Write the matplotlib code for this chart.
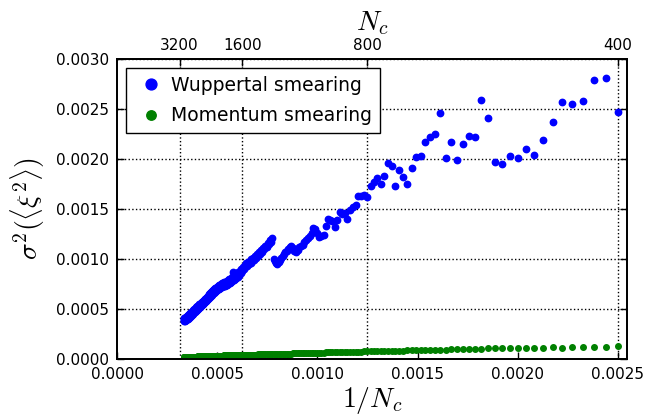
import numpy as np
import matplotlib
matplotlib.use('Agg')
import matplotlib.pyplot as plt

# Number of configurations used for each point (x axis shows 1/N_c)
N_values = list(range(400, 3010, 10))

# Wuppertal smearing variance, in units of 1e-5
wupp_e5 = [
    247, 281, 279, 258, 255, 257, 237, 219, 204, 210,
    201, 203, 195, 197, 241, 259, 222, 223, 215, 199,
    217, 201, 246, 225, 222, 217, 203, 202, 191, 175,
    182, 189, 173, 193, 196, 183, 175, 181, 177, 173,
    162, 164, 163, 163, 154, 152, 149, 140, 146, 145,
    147, 139, 132, 138, 139, 140, 133, 124, 123, 122,
    126, 130, 131, 126, 123, 121, 119, 117, 114,
    113, 112, 109, 107, 108, 111, 113, 112, 110, 108,
    107, 105, 103, 101, 99, 97, 95, 96, 98, 100,
    121, 117, 119, 115, 116, 112, 113, 110, 111, 107,
    109, 105, 107, 103, 105, 101, 103, 99, 101, 98,
    100, 96, 98, 95, 97, 93, 96, 92, 94, 90,
    92, 88, 90, 86, 88, 84, 87, 82, 85, 81,
    84, 80, 83, 79, 87, 78, 82, 77, 80, 76,
    80, 75, 79, 74, 78, 74, 77, 73, 77, 73,
    76, 72, 76, 72, 75, 71, 74, 70, 74, 70,
    73, 69, 72, 68, 71, 67, 71, 66, 70, 66,
    69, 65, 68, 64, 67, 63, 66, 62, 65, 61,
    64, 60, 63, 59, 62, 58, 61, 58, 60, 57,
    60, 56, 59, 55, 58, 55, 57, 54, 57, 53,
    56, 53, 55, 52, 55, 51, 54, 51, 53, 50,
    53, 50, 52, 49, 52, 48, 51, 48, 50, 47,
    50, 47, 49, 46, 49, 45, 48, 45, 47, 44,
    47, 44, 46, 43, 46, 43, 45, 42, 45, 42,
    44, 41, 44, 41, 43, 40, 43, 40, 42, 40,
    42, 39, 42, 39, 41, 39, 41, 38, 41, 38,
    40, 39,
]

# Momentum smearing variance, in units of 1e-6
mom_e6 = [
    130, 124, 123, 118, 117, 114, 116, 113, 114, 111,
    113, 110, 107, 106, 108, 104, 103, 100, 98, 99,
    96, 94, 92, 90, 89, 88, 90, 91, 88, 86,
    85, 84, 84, 83, 82, 81, 80, 79, 78, 77,
    76, 76, 75, 74, 74, 73, 72, 72, 71, 70,
    70, 69, 68, 68, 67, 66, 66, 65, 64, 63,
    63, 62, 62, 61, 61, 60, 60, 59, 59, 58,
    58, 57, 57, 56, 56, 55, 55, 54, 54, 53,
    53, 53, 52, 52, 51, 51, 51, 50, 50, 50,
    49, 49, 49, 48, 48, 48, 47, 47, 47, 46,
    46, 46, 46, 45, 45, 45, 45, 44, 44, 44,
    44, 43, 43, 43, 43, 42, 42, 42, 42, 42,
    41, 41, 41, 41, 40, 40, 40, 40, 40, 39,
    39, 39, 39, 39, 38, 38, 38, 38, 38, 37,
    37, 37, 37, 37, 36, 36, 36, 36, 36, 35,
    35, 35, 35, 35, 35, 34, 34, 34, 34, 34,
    33, 33, 33, 33, 33, 32, 32, 32, 32, 32,
    32, 31, 31, 31, 31, 31, 31, 30, 30, 30,
    30, 30, 30, 29, 29, 29, 29, 29, 29, 28,
    28, 28, 28, 28, 28, 27, 27, 27, 27, 27,
    27, 27, 26, 26, 26, 26, 26, 26, 26, 25,
    25, 25, 25, 25, 25, 25, 24, 24, 24, 24,
    24, 24, 24, 24, 23, 23, 23, 23, 23, 23,
    23, 23, 23, 22, 22, 22, 22, 22, 22, 22,
    22, 22, 22, 22, 21, 21, 21, 21, 21, 21,
    21, 21, 21, 21, 21, 20, 20, 20, 20, 20,
    20,
]

bottom_ticks = [0.0, 0.0005, 0.0010, 0.0015, 0.0020, 0.0025]
y_ticks = [0.0, 0.0005, 0.0010, 0.0015, 0.0020, 0.0025, 0.0030]
top_N_ticks = [3200, 1600, 800, 400]

assert len(wupp_e5) == len(N_values), len(wupp_e5)
assert len(mom_e6) == len(N_values), len(mom_e6)

plt.rcParams['mathtext.fontset'] = 'cm'
plt.rcParams['font.family'] = 'DejaVu Sans'

x = 1.0 / np.array(N_values, dtype=float)
wupp = np.array(wupp_e5) * 1e-5
mom = np.array(mom_e6) * 1e-6

fig = plt.figure(figsize=(6.45, 4.18), dpi=100)
ax = fig.add_axes([117 / 645, 1 - 359 / 418, 510 / 645, 300 / 418])
ax2 = ax.twiny()

ax.plot(x, wupp, 'o', color='b', mec='b', ms=4.6, label='Wuppertal smearing')
ax.plot(x, mom, 'o', color=(0, 0.5, 0), mec=(0, 0.5, 0), ms=4.0,
        label='Momentum smearing')

xlim = (0.0, 0.002545)
ax.set_xlim(*xlim)
ax.set_ylim(0, 0.003)
ax.set_xticks(bottom_ticks)
ax.set_xticklabels(['%.4f' % t for t in bottom_ticks])
ax.set_yticks(y_ticks)
ax.set_yticklabels(['%.4f' % t for t in y_ticks])
ax.tick_params(axis='x', direction='in', bottom=True, top=False, length=5,
               width=1, labelsize=11, pad=6)
ax.tick_params(axis='y', direction='in', left=True, right=True, length=5,
               width=1, labelsize=11, pad=6)
ax.yaxis.grid(True, linestyle=':', color='k', linewidth=1)

ax2.set_xlim(*xlim)
ax2.set_xticks(1.0 / np.array(top_N_ticks, dtype=float))
ax2.set_xticklabels([str(n) for n in top_N_ticks])
ax2.tick_params(axis='x', direction='in', length=5, width=1, labelsize=11, pad=4)
ax2.xaxis.grid(True, linestyle=':', color='k', linewidth=1)
ax2.set_xlabel('$N_c$', fontsize=20, labelpad=6)

for a in (ax, ax2):
    for s in a.spines.values():
        s.set_linewidth(1.3)

ax.set_zorder(ax2.get_zorder() + 1)
ax.patch.set_visible(False)

ax.set_xlabel('$1/N_c$', fontsize=20, labelpad=2)
ax.set_ylabel(r'$\sigma^2(\langle\xi^2\rangle)$', fontsize=20, labelpad=6)

leg = ax.legend(loc='upper left', numpoints=1, markerscale=1.7, fontsize=13.5,
                fancybox=False, framealpha=1, edgecolor='k',
                borderaxespad=0.5, handletextpad=0.2, handlelength=1.8,
                labelspacing=0.6)
leg.get_frame().set_linewidth(1)

fig.savefig('out.png', dpi=100)
